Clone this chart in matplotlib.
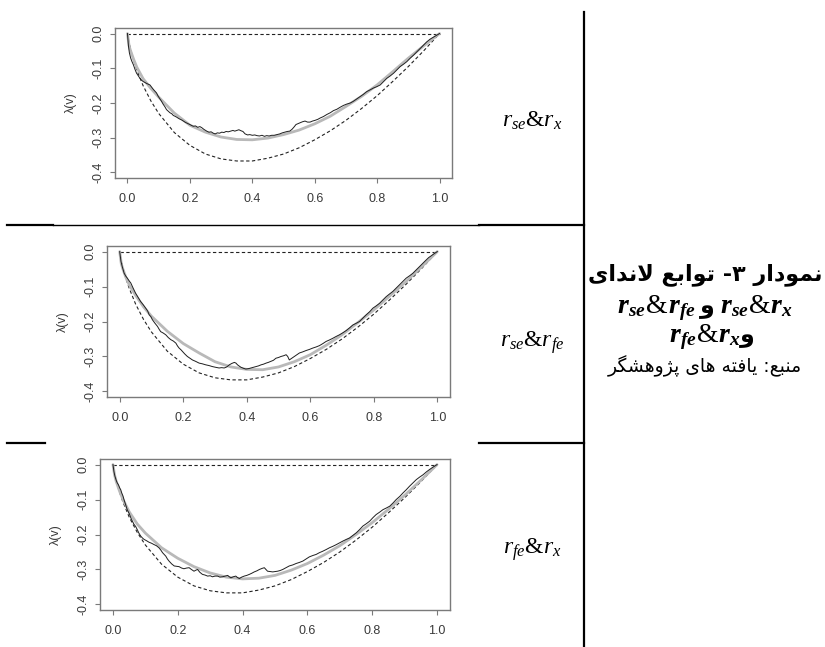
import matplotlib
matplotlib.use("Agg")
import matplotlib.pyplot as plt
from matplotlib.lines import Line2D

plt.rcParams['mathtext.fontset'] = 'custom'
plt.rcParams['mathtext.rm'] = 'Liberation Serif'
plt.rcParams['mathtext.it'] = 'Liberation Serif:italic'
plt.rcParams['mathtext.bf'] = 'Liberation Serif:bold:italic'

# ---------------- data ----------------
x_ticks = [0.0, 0.2, 0.4, 0.6, 0.8, 1.0]
x_ticklabels = ["0.0", "0.2", "0.4", "0.6", "0.8", "1.0"]
y_ticks = [0.0, -0.1, -0.2, -0.3, -0.4]
y_ticklabels = ["0.0", "-0.1", "-0.2", "-0.3", "-0.4"]

upper_v = [0.0, 1.0]
upper_y = [0.0, 0.0]

grid_v = [0.0, 0.005, 0.01, 0.02, 0.03, 0.05, 0.075, 0.1, 0.15, 0.2, 0.25, 0.3, 0.35,
          0.4, 0.45, 0.5, 0.55, 0.6, 0.65, 0.7, 0.75, 0.8, 0.85, 0.9, 0.95, 1.0]
lower_y = [0.0, -0.026, -0.046, -0.078, -0.105, -0.150, -0.194, -0.230, -0.285, -0.322,
           -0.347, -0.361, -0.367, -0.367, -0.359, -0.347, -0.329, -0.306, -0.280, -0.250,
           -0.216, -0.179, -0.138, -0.095, -0.049, 0.0]

fit1_y = [0.0, -0.035, -0.050, -0.075, -0.097, -0.130, -0.158, -0.183, -0.229, -0.264,
          -0.284, -0.298, -0.305, -0.306, -0.301, -0.291, -0.278, -0.260, -0.238, -0.210,
          -0.181, -0.148, -0.110, -0.071, -0.035, 0.0]
fit2_y = [0.0, -0.035, -0.050, -0.075, -0.095, -0.125, -0.158, -0.185, -0.228, -0.263,
          -0.290, -0.315, -0.330, -0.337, -0.338, -0.330, -0.315, -0.295, -0.268, -0.238,
          -0.203, -0.167, -0.127, -0.087, -0.044, 0.0]
fit3_y = [0.0, -0.030, -0.048, -0.075, -0.098, -0.135, -0.170, -0.196, -0.238, -0.268,
          -0.292, -0.310, -0.322, -0.327, -0.325, -0.317, -0.302, -0.283, -0.259, -0.232,
          -0.200, -0.166, -0.128, -0.088, -0.045, 0.0]

emp1_x = [0.000, 0.003, 0.006, 0.010, 0.014, 0.019, 0.024, 0.029, 0.034, 0.040, 0.045, 0.050,
          0.056, 0.062, 0.067, 0.072, 0.078, 0.083, 0.088, 0.093, 0.098, 0.104, 0.109, 0.114,
          0.120, 0.125, 0.131, 0.136, 0.142, 0.147, 0.152, 0.158, 0.163, 0.169, 0.174, 0.179,
          0.186, 0.193, 0.200, 0.206, 0.211, 0.218, 0.225, 0.232, 0.238, 0.245, 0.254, 0.261,
          0.268, 0.275, 0.281, 0.288, 0.295, 0.302, 0.309, 0.316, 0.323, 0.331, 0.338, 0.344,
          0.350, 0.357, 0.364, 0.370, 0.377, 0.385, 0.392, 0.400, 0.408, 0.415, 0.423, 0.431,
          0.439, 0.446, 0.454, 0.462, 0.470, 0.479, 0.488, 0.496, 0.504, 0.512, 0.520, 0.527,
          0.533, 0.540, 0.545, 0.553, 0.561, 0.569, 0.577, 0.585, 0.593, 0.601, 0.610, 0.618,
          0.628, 0.639, 0.650, 0.660, 0.671, 0.682, 0.692, 0.703, 0.714, 0.724, 0.735, 0.746,
          0.756, 0.767, 0.778, 0.788, 0.799, 0.810, 0.820, 0.831, 0.842, 0.853, 0.864, 0.874,
          0.885, 0.895, 0.906, 0.917, 0.928, 0.938, 0.949, 0.959, 0.970, 0.981, 0.990, 1.000]
emp1_y = [0.000, -0.035, -0.055, -0.070, -0.080, -0.090, -0.103, -0.114, -0.121, -0.129, -0.134, -0.138,
          -0.141, -0.144, -0.146, -0.148, -0.155, -0.161, -0.166, -0.171, -0.180, -0.188, -0.195, -0.203,
          -0.211, -0.219, -0.224, -0.228, -0.231, -0.236, -0.238, -0.241, -0.244, -0.247, -0.249, -0.252,
          -0.256, -0.259, -0.262, -0.265, -0.267, -0.266, -0.270, -0.268, -0.271, -0.276, -0.281, -0.284,
          -0.283, -0.287, -0.289, -0.286, -0.287, -0.284, -0.285, -0.282, -0.283, -0.281, -0.279, -0.281,
          -0.279, -0.277, -0.280, -0.282, -0.289, -0.292, -0.291, -0.293, -0.292, -0.294, -0.295, -0.293,
          -0.296, -0.294, -0.295, -0.293, -0.293, -0.291, -0.289, -0.286, -0.284, -0.282, -0.281, -0.276,
          -0.270, -0.262, -0.260, -0.257, -0.254, -0.252, -0.255, -0.255, -0.252, -0.250, -0.247, -0.243,
          -0.239, -0.233, -0.228, -0.222, -0.218, -0.212, -0.207, -0.203, -0.200, -0.195, -0.188, -0.181,
          -0.175, -0.167, -0.162, -0.157, -0.153, -0.148, -0.139, -0.129, -0.122, -0.114, -0.104, -0.095,
          -0.088, -0.081, -0.071, -0.062, -0.052, -0.043, -0.033, -0.024, -0.016, -0.010, -0.005, 0.000]

emp2_x = [0.000, 0.004, 0.008, 0.014, 0.019, 0.024, 0.030, 0.035, 0.042, 0.050, 0.058, 0.066,
          0.074, 0.082, 0.088, 0.093, 0.098, 0.103, 0.111, 0.119, 0.124, 0.129, 0.137, 0.145,
          0.153, 0.161, 0.169, 0.177, 0.182, 0.187, 0.193, 0.198, 0.205, 0.213, 0.221, 0.229,
          0.239, 0.250, 0.260, 0.271, 0.281, 0.292, 0.302, 0.313, 0.321, 0.329, 0.337, 0.345,
          0.353, 0.361, 0.366, 0.371, 0.377, 0.382, 0.390, 0.397, 0.405, 0.413, 0.421, 0.429,
          0.437, 0.445, 0.453, 0.461, 0.468, 0.476, 0.484, 0.492, 0.500, 0.508, 0.516, 0.524,
          0.529, 0.534, 0.542, 0.550, 0.558, 0.566, 0.576, 0.587, 0.597, 0.608, 0.618, 0.629,
          0.640, 0.650, 0.660, 0.671, 0.681, 0.692, 0.703, 0.713, 0.724, 0.734, 0.745, 0.755,
          0.766, 0.776, 0.787, 0.797, 0.808, 0.818, 0.829, 0.839, 0.850, 0.860, 0.871, 0.881,
          0.892, 0.902, 0.913, 0.923, 0.934, 0.944, 0.955, 0.965, 0.973, 0.981, 0.990, 1.000]
emp2_y = [0.000, -0.028, -0.043, -0.062, -0.070, -0.076, -0.084, -0.090, -0.104, -0.119, -0.131, -0.143,
          -0.152, -0.162, -0.170, -0.181, -0.186, -0.195, -0.205, -0.214, -0.222, -0.229, -0.233, -0.238,
          -0.246, -0.252, -0.256, -0.262, -0.270, -0.276, -0.281, -0.286, -0.293, -0.300, -0.305, -0.310,
          -0.314, -0.319, -0.321, -0.324, -0.326, -0.329, -0.331, -0.333, -0.332, -0.333, -0.330, -0.324,
          -0.320, -0.317, -0.319, -0.324, -0.328, -0.331, -0.334, -0.336, -0.335, -0.333, -0.331, -0.329,
          -0.327, -0.324, -0.322, -0.319, -0.317, -0.314, -0.311, -0.305, -0.303, -0.300, -0.298, -0.295,
          -0.300, -0.310, -0.305, -0.300, -0.295, -0.290, -0.287, -0.283, -0.280, -0.276, -0.273, -0.269,
          -0.263, -0.257, -0.253, -0.248, -0.243, -0.238, -0.232, -0.226, -0.218, -0.210, -0.205, -0.200,
          -0.190, -0.181, -0.172, -0.162, -0.155, -0.148, -0.138, -0.129, -0.121, -0.114, -0.104, -0.095,
          -0.085, -0.076, -0.069, -0.062, -0.052, -0.043, -0.033, -0.024, -0.017, -0.012, -0.006, 0.000]

emp3_x = [0.000, 0.003, 0.006, 0.010, 0.013, 0.017, 0.021, 0.024, 0.027, 0.031, 0.034, 0.039,
          0.044, 0.050, 0.055, 0.060, 0.065, 0.070, 0.075, 0.080, 0.086, 0.091, 0.096, 0.104,
          0.111, 0.119, 0.127, 0.134, 0.142, 0.148, 0.153, 0.158, 0.163, 0.168, 0.173, 0.181,
          0.189, 0.196, 0.204, 0.212, 0.219, 0.227, 0.235, 0.242, 0.250, 0.256, 0.261, 0.268,
          0.276, 0.284, 0.292, 0.300, 0.307, 0.315, 0.323, 0.330, 0.338, 0.346, 0.354, 0.359,
          0.364, 0.371, 0.379, 0.384, 0.390, 0.397, 0.405, 0.413, 0.421, 0.428, 0.436, 0.444,
          0.452, 0.460, 0.467, 0.472, 0.477, 0.485, 0.493, 0.500, 0.508, 0.516, 0.524, 0.534,
          0.544, 0.555, 0.565, 0.575, 0.586, 0.596, 0.606, 0.617, 0.627, 0.637, 0.647, 0.658,
          0.668, 0.678, 0.689, 0.699, 0.709, 0.720, 0.730, 0.740, 0.751, 0.761, 0.771, 0.782,
          0.792, 0.802, 0.812, 0.823, 0.833, 0.844, 0.854, 0.864, 0.874, 0.885, 0.895, 0.905,
          0.915, 0.926, 0.936, 0.946, 0.957, 0.967, 0.977, 0.988, 1.000]
emp3_y = [0.000, -0.020, -0.033, -0.045, -0.052, -0.058, -0.067, -0.072, -0.081, -0.090, -0.100, -0.114,
          -0.129, -0.140, -0.152, -0.162, -0.171, -0.177, -0.186, -0.196, -0.205, -0.210, -0.214, -0.218,
          -0.222, -0.225, -0.229, -0.232, -0.238, -0.245, -0.252, -0.257, -0.262, -0.270, -0.276, -0.284,
          -0.290, -0.291, -0.292, -0.296, -0.298, -0.296, -0.295, -0.300, -0.305, -0.302, -0.300, -0.308,
          -0.314, -0.316, -0.319, -0.318, -0.321, -0.319, -0.319, -0.322, -0.321, -0.319, -0.317, -0.321,
          -0.324, -0.321, -0.319, -0.323, -0.326, -0.322, -0.319, -0.317, -0.314, -0.311, -0.307, -0.304,
          -0.300, -0.297, -0.295, -0.300, -0.305, -0.306, -0.307, -0.306, -0.305, -0.303, -0.300, -0.295,
          -0.290, -0.287, -0.283, -0.280, -0.276, -0.270, -0.264, -0.260, -0.257, -0.252, -0.248, -0.243,
          -0.238, -0.234, -0.229, -0.224, -0.219, -0.214, -0.210, -0.203, -0.195, -0.186, -0.176, -0.169,
          -0.162, -0.152, -0.143, -0.136, -0.129, -0.124, -0.119, -0.110, -0.100, -0.091, -0.081, -0.072,
          -0.062, -0.052, -0.043, -0.036, -0.029, -0.021, -0.014, -0.007, 0.000]

row_labels = [r"$r_{se}$&$r_{x}$", r"$r_{se}$&$r_{fe}$", r"$r_{fe}$&$r_{x}$"]
title_line1 = "نمودار ۳- توابع لاندای"
title_waw = "و"
title_line4 = "منبع: یافته های پژوهشگر"

# ---------------- minimal Arabic/Persian shaping (matplotlib has no CTL) ----------------
AR = {
    '\u0627': ('\uFE8D', '\uFE8E', None, None),
    '\u0628': ('\uFE8F', '\uFE90', '\uFE91', '\uFE92'),
    '\u067E': ('\uFB56', '\uFB57', '\uFB58', '\uFB59'),
    '\u062A': ('\uFE95', '\uFE96', '\uFE97', '\uFE98'),
    '\u062F': ('\uFEA9', '\uFEAA', None, None),
    '\u0631': ('\uFEAD', '\uFEAE', None, None),
    '\u0698': ('\uFB8A', '\uFB8B', None, None),
    '\u0634': ('\uFEB5', '\uFEB6', '\uFEB7', '\uFEB8'),
    '\u0639': ('\uFEC9', '\uFECA', '\uFECB', '\uFECC'),
    '\u0641': ('\uFED1', '\uFED2', '\uFED3', '\uFED4'),
    '\u06AF': ('\uFB92', '\uFB93', '\uFB94', '\uFB95'),
    '\u0644': ('\uFEDD', '\uFEDE', '\uFEDF', '\uFEE0'),
    '\u0645': ('\uFEE1', '\uFEE2', '\uFEE3', '\uFEE4'),
    '\u0646': ('\uFEE5', '\uFEE6', '\uFEE7', '\uFEE8'),
    '\u0647': ('\uFEE9', '\uFEEA', '\uFEEB', '\uFEEC'),
    '\u0648': ('\uFEED', '\uFEEE', None, None),
    '\u06CC': ('\uFBFC', '\uFBFD', '\uFBFE', '\uFBFF'),
}


def shape_rtl(s):
    def fwd(c):
        return c in AR and AR[c][2] is not None
    out = []
    i, n = 0, len(s)
    while i < n:
        c = s[i]
        if c not in AR:
            out.append(c)
            i += 1
            continue
        jp = i > 0 and fwd(s[i - 1])
        if c == '\u0644' and i + 1 < n and s[i + 1] == '\u0627':
            out.append('\uFEFC' if jp else '\uFEFB')
            i += 2
            continue
        jn = i + 1 < n and s[i + 1] in AR and AR[c][2] is not None
        iso, fin, ini, med = AR[c]
        out.append(med if (jp and jn) else fin if jp else ini if jn else iso)
        i += 1
    return ''.join(reversed(out))


# ---------------- figure ----------------
W, H = 825, 647
fig = plt.figure(figsize=(W / 100, H / 100), dpi=100)


def fpos(l, r, t, b):
    return [l / W, 1 - b / H, (r - l) / W, (b - t) / H]


panel_boxes = [(115, 452, 28, 178), (107, 450, 246, 397), (100, 450, 459, 610)]
fits = [fit1_y, fit2_y, fit3_y]
emps = [(emp1_x, emp1_y), (emp2_x, emp2_y), (emp3_x, emp3_y)]

tick_font = ['Liberation Sans', 'DejaVu Sans']
frame_col = '#7a7a7a'

for k in range(3):
    ax = fig.add_axes(fpos(*panel_boxes[k]))
    ax.plot(upper_v, upper_y, color='#222222', lw=0.8, dashes=(3, 2.2))
    ax.plot(grid_v, lower_y, color='#222222', lw=0.8, dashes=(3, 2.2))
    ax.plot(grid_v, fits[k], color='#b9b9b9', lw=2.0, solid_capstyle='round')
    ax.plot(emps[k][0], emps[k][1], color='#1e1e1e', lw=0.7)
    ax.set_xlim(-0.04, 1.04)
    ax.set_ylim(-0.416, 0.016)
    ax.set_xticks(x_ticks)
    ax.set_xticklabels(x_ticklabels, family=tick_font, fontsize=9, color='#3a3a3a')
    ax.set_yticks(y_ticks)
    ax.set_yticklabels(y_ticklabels, family=tick_font, fontsize=9, color='#3a3a3a',
                       rotation=90, va='center')
    ax.tick_params(axis='both', direction='out', length=3.6, width=0.8, color=frame_col)
    ax.tick_params(axis='x', pad=7)
    ax.tick_params(axis='y', pad=4)
    for sp in ax.spines.values():
        sp.set_color(frame_col)
        sp.set_linewidth(1.0)
    ax.set_ylabel("λ(v)", family=tick_font, fontsize=9, color='#3a3a3a', labelpad=11)

# table lines
def hline(y, x0, x1, lw):
    fig.add_artist(Line2D([x0 / W, x1 / W], [1 - y / H, 1 - y / H], color='black', lw=lw))

fig.add_artist(Line2D([584 / W, 584 / W], [1 - 12 / H, 0], color='black', lw=1.6))
hline(225, 7, 53, 1.6)
hline(225, 53, 479, 1.0)
hline(225, 479, 584, 1.6)
hline(443, 7, 45, 1.6)
hline(443, 479, 584, 1.6)

# row labels
row_y = [121, 343, 550]
for lab, yy in zip(row_labels, row_y):
    fig.text(532 / W, 1 - yy / H, lab, family=['Liberation Serif', 'DejaVu Serif'],
             fontsize=17, ha='center', va='center')

# right caption
fig.text(705 / W, 1 - 275 / H, shape_rtl(title_line1), family='DejaVu Sans',
         fontweight='bold', fontsize=16, ha='center', va='center')
fig.text(705 / W, 1 - 366 / H, shape_rtl(title_line4), family='DejaVu Sans',
         fontsize=13.5, ha='center', va='center')

renderer = fig.canvas.get_renderer()


def place_row(parts, xc, y_base):
    texts, widths = [], []
    for s, kw, gap in parts:
        t = fig.text(0, 0, s, ha='left', va='baseline', **kw)
        w = t.get_window_extent(renderer).width
        texts.append((t, gap))
        widths.append(w + gap)
    x = xc - sum(widths) / 2
    for (t, gap), w in zip(texts, widths):
        t.set_position(((x + gap / 2) / W, 1 - y_base / H))
        x += w


mkw = dict(fontsize=20)
amp = dict(family='Liberation Serif', fontsize=20)
wkw = dict(family='DejaVu Sans', fontweight='bold', fontsize=17)
waw = shape_rtl(title_waw)
place_row([(r"$\mathbf{r}_{\mathbf{se}}$", mkw, 0), ("&", amp, 0),
           (r"$\mathbf{r}_{\mathbf{fe}}$", mkw, 0), (waw, wkw, 10),
           (r"$\mathbf{r}_{\mathbf{se}}$", mkw, 0), ("&", amp, 0),
           (r"$\mathbf{r}_{\mathbf{x}}$", mkw, 0)], 705, 313)
place_row([(r"$\mathbf{r}_{\mathbf{fe}}$", mkw, 0), ("&", amp, 0),
           (r"$\mathbf{r}_{\mathbf{x}}$", mkw, 0), (waw, wkw, 0)], 712, 342)

fig.savefig("out.png", dpi=100)
